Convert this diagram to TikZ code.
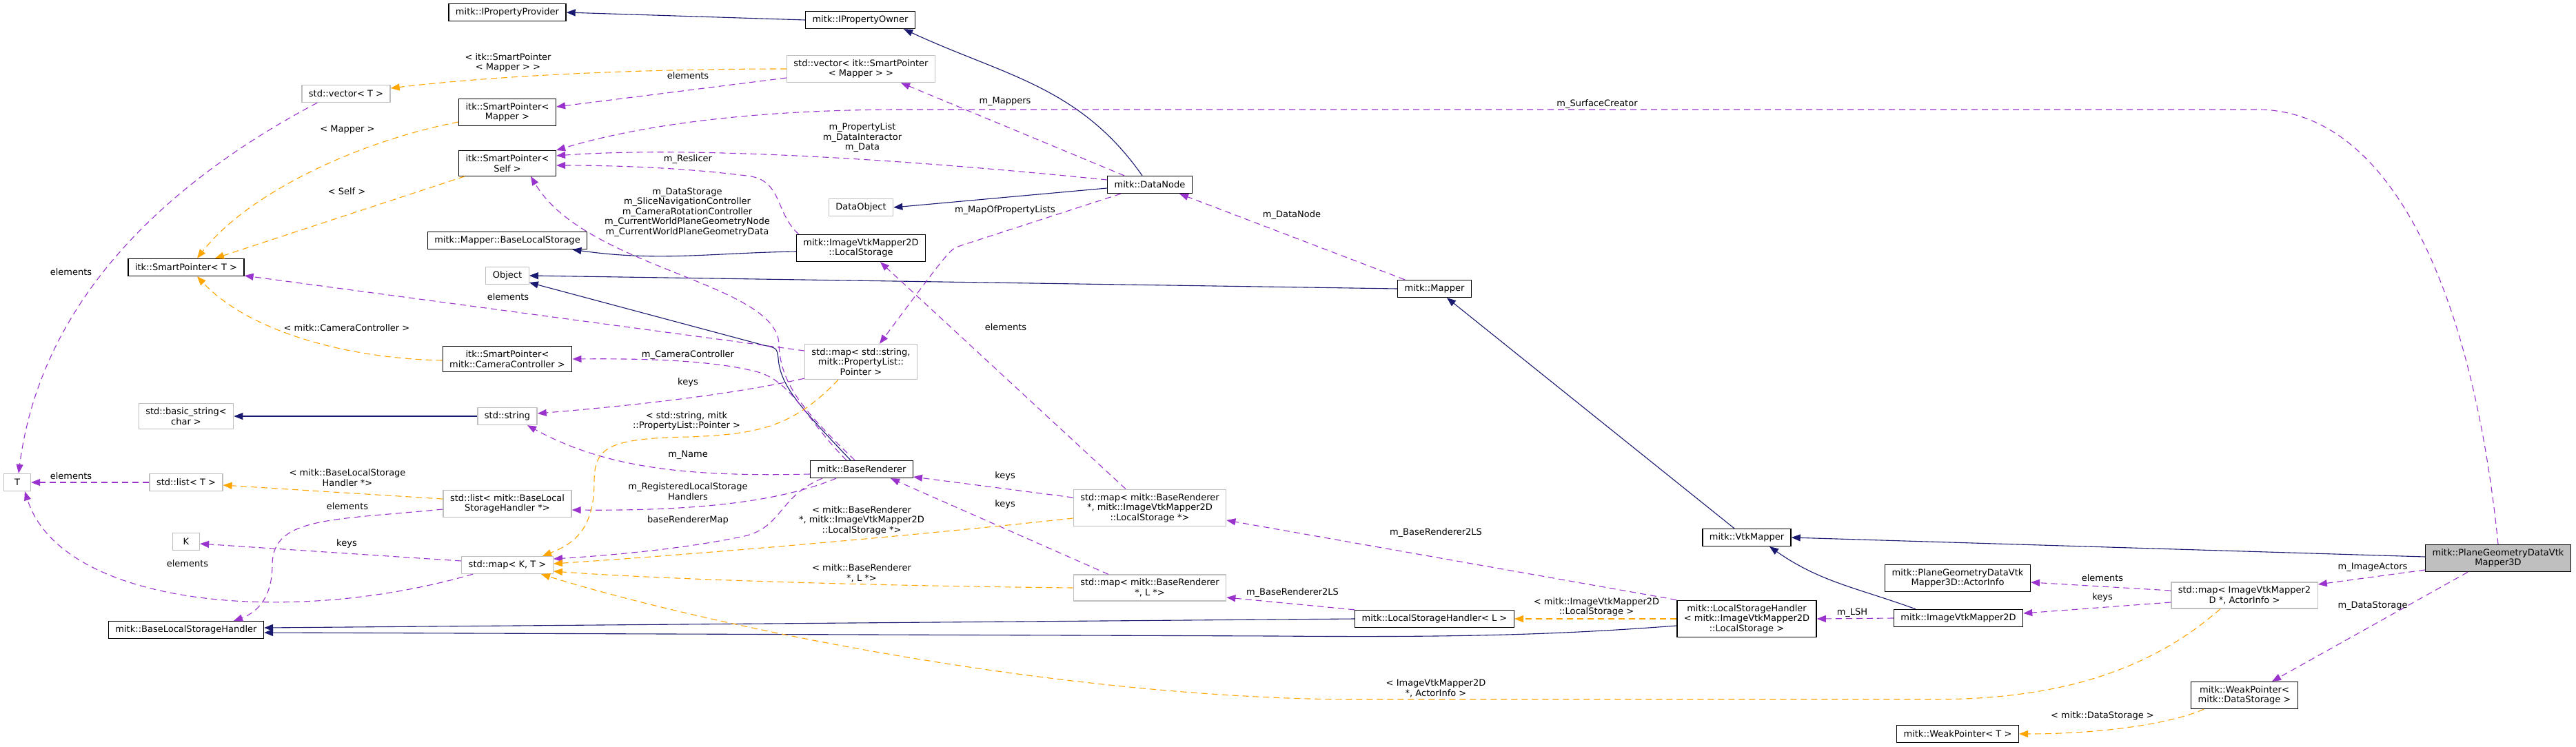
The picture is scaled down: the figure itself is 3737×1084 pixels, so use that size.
\documentclass[tikz,border=0pt]{standalone}
\usepackage{fontspec}
\setmainfont{DejaVu Sans}
\usetikzlibrary{arrows.meta}
\definecolor{navy}{HTML}{191970}
\definecolor{orchid}{HTML}{9A32CD}
\definecolor{tmplorange}{HTML}{FFA500}
\definecolor{extgray}{HTML}{BFBFBF}
\newcommand{\dgfont}{\fontsize{13}{14.5}\selectfont}
\begin{document}
\begin{tikzpicture}[x=1pt,y=-1pt,
  cls/.style={draw=black,line width=1.3pt,fill=white,inner xsep=10pt,inner ysep=6pt,
    minimum height=25pt,align=center,font=\dgfont},
  ext/.style={cls,draw=extgray,line width=1.3pt},
  focus/.style={cls,fill=extgray},
  lbl/.style={align=center,inner sep=0pt,font=\dgfont},
  inherit/.style={draw=navy,line width=1.1pt,-{Triangle[length=13pt,width=10pt]}},
  usage/.style={draw=orchid,line width=1.1pt,dash pattern=on 9pt off 6pt,-{Triangle[length=13pt,width=10pt]}},
  templ/.style={usage,draw=tmplorange}]
\useasboundingbox (0,0) rectangle (3737,1084);
%
% classes
\node[cls] (provider) at (736,18) {mitk::IPropertyProvider};
\node[cls] (owner) at (1248,29) {mitk::IPropertyOwner};
\node[ext] (vecsp) at (1249,100) {std::vector< itk::SmartPointer\\< Mapper > >};
\node[ext] (vect) at (502,136) {std::vector< T >};
\node[cls] (spmapper) at (736,163) {itk::SmartPointer<\\Mapper >};
\node[cls] (spself) at (736,237) {itk::SmartPointer<\\Self >};
\node[cls] (baselocal) at (736,349) {mitk::Mapper::BaseLocalStorage};
\node[ext] (object) at (736,400) {Object};
\node[cls] (spt) at (270,388) {itk::SmartPointer< T >};
\node[ext] (dataobject) at (1249,301) {DataObject};
\node[cls] (datanode) at (1668,268) {mitk::DataNode};
\node[cls] (ivmls) at (1249,360) {mitk::ImageVtkMapper2D\\::LocalStorage};
\node[cls] (mapper) at (2081,419) {mitk::Mapper};
\node[cls] (spcc) at (736,521) {itk::SmartPointer<\\mitk::CameraController >};
\node[ext] (mapstr) at (1249,525) {std::map< std::string,\\mitk::PropertyList::\\Pointer >};
\node[ext] (basicstr) at (270,604) {std::basic\_string<\\char >};
\node[ext] (str) at (736,604) {std::string};
\node[ext] (listt) at (270,700) {std::list< T >};
\node[ext,minimum width=39pt] (tt) at (25,700) {T};
\node[ext,minimum width=39pt] (kk) at (270,786) {K};
\node[ext] (listblsh) at (736,731) {std::list< mitk::BaseLocal\\StorageHandler *>};
\node[ext] (mapkt) at (736,820) {std::map< K, T >};
\node[cls] (blsh) at (270,914) {mitk::BaseLocalStorageHandler};
\node[cls] (renderer) at (1250,681) {mitk::BaseRenderer};
\node[ext] (mapbrls) at (1668,737) {std::map< mitk::BaseRenderer\\*, mitk::ImageVtkMapper2D\\::LocalStorage *>};
\node[ext] (mapbrl) at (1668,853) {std::map< mitk::BaseRenderer\\*, L *>};
\node[cls] (lshl) at (2081,898) {mitk::LocalStorageHandler< L >};
\node[cls] (lshivm) at (2534,898) {mitk::LocalStorageHandler\\< mitk::ImageVtkMapper2D\\::LocalStorage >};
\node[cls] (vtkmapper) at (2534,780) {mitk::VtkMapper};
\node[cls] (actorinfo) at (2840,839) {mitk::PlaneGeometryDataVtk\\Mapper3D::ActorInfo};
\node[cls] (ivm) at (2841,897) {mitk::ImageVtkMapper2D};
\node[ext] (mapactor) at (3256,864) {std::map< ImageVtkMapper2\\D *, ActorInfo >};
\node[focus] (plane) at (3624,810) {mitk::PlaneGeometryDataVtk\\Mapper3D};
\node[cls] (wpds) at (3256,1009) {mitk::WeakPointer<\\mitk::DataStorage >};
\node[cls] (wpt) at (2840,1065) {mitk::WeakPointer< T >};
%
% inheritance
\draw[inherit] (owner.west) -- (provider.east);
\draw[inherit] ([xshift=-11pt]datanode.north) to[out=125,in=-25] ([xshift=-17pt]owner.south east);
\draw[inherit] ([yshift=-5pt]datanode.west) -- (dataobject.east);
\draw[inherit] ([yshift=-5pt]ivmls.west) to[out=181,in=-8] ([xshift=-22pt]baselocal.south east);
\draw[inherit] (mapper.west) -- (object.east);
\draw[inherit] ([xshift=-16pt]renderer.north) .. controls (1160,590) and (1132,560) .. (1129,520)
  .. controls (1127,505) .. (1108,501) -- ([yshift=-10pt]object.east);
\draw[inherit] ([xshift=-18pt]vtkmapper.north) -- ([xshift=18pt]mapper.south);
\draw[inherit] ([yshift=2pt]plane.west) -- (vtkmapper.east);
\draw[inherit] ([xshift=-62pt]ivm.north) to[out=160,in=-35] ([xshift=33pt]vtkmapper.south);
\draw[inherit] (str.west) -- (basicstr.east);
\draw[inherit] (lshl.west) -- ([yshift=3pt]blsh.east);
\draw[inherit] ([yshift=-10pt]lshivm.west) .. controls (2250,922) and (2100,925) .. (1850,923)
  -- ([yshift=-4pt]blsh.east);
%
% usage
\draw[usage] ([xshift=23pt]vect.south west) .. controls (250,260) and (60,430) .. ([xshift=2pt]tt.north);
\draw[usage] ([yshift=-13pt]vecsp.west) -- ([yshift=8pt]spmapper.east);
\draw[usage] ([xshift=-37pt]datanode.north) -- ([xshift=58pt]vecsp.south);
\draw[usage] ([yshift=7pt]datanode.west) .. controls (1300,230) and (1000,212) .. ([yshift=11pt]spself.east);
\draw[usage] (plane.north) .. controls (3590,450) and (3480,165) .. (3280,159) -- (1300,159)
  .. controls (1050,160) and (900,190) .. (spself.north east);
\draw[usage] ([xshift=4pt]ivmls.north west) .. controls (1125,310) and (1135,265) .. (1090,256)
  .. controls (1000,244) and (900,240) .. ([yshift=-3pt]spself.east);
\draw[usage] ([xshift=-10pt]renderer.north) .. controls (1170,600) and (1132,560) .. (1130,500)
  .. controls (1128,410) and (850,390) .. ([xshift=34pt]spself.south);
\draw[usage] ([yshift=16pt]mapstr.west) -- ([yshift=-12pt]spt.east);
\draw[usage] ([xshift=-42pt]datanode.south) -- (1392,357) .. controls (1378,362) .. ([xshift=27pt]mapstr.north);
\draw[usage] ([xshift=-22pt]renderer.north) .. controls (1170,610) and (1150,555) .. (1100,540)
  .. controls (1040,524) and (950,520) .. (spcc.east);
\draw[usage] ([yshift=2pt]mapstr.south west) .. controls (1050,575) and (900,590) .. ([yshift=4pt]str.east);
\draw[usage] ([yshift=-7pt]renderer.west) .. controls (1000,692) and (880,680) .. ([xshift=29pt]str.south);
\draw[usage] ([xshift=-37pt]renderer.south) .. controls (1150,720) and (1050,742) .. ([yshift=-9pt]listblsh.east);
\draw[usage] ([xshift=-57pt]renderer.south) .. controls (1130,720) and (1135,765) .. (1080,778)
  .. controls (1000,795) and (900,805) .. ([yshift=9pt]mapkt.east);
\draw[usage] ([yshift=15pt]mapbrls.west) -- ([yshift=-11pt]renderer.east);
\draw[usage] ([xshift=-60pt]mapbrl.north) -- ([xshift=42pt]renderer.south);
\draw[usage] ([xshift=-35pt]mapbrls.north) -- ([xshift=28pt]ivmls.south);
\draw[usage] (lshivm.north west) -- ([yshift=-18pt]mapbrls.east);
\draw[usage] (lshl.north west) -- ([yshift=-14pt]mapbrl.east);
\draw[usage] ([yshift=6pt]mapkt.west) -- ([yshift=-3pt]kk.east);
\draw[usage] ([xshift=17pt]mapkt.south west) .. controls (420,910) and (90,880) .. ([xshift=11pt]tt.south);
\draw[usage] ([yshift=-8pt]listblsh.west) .. controls (480,755) and (395,750) .. (395,820)
  .. controls (395,870) and (370,890) .. ([xshift=69pt]blsh.north);
\draw[usage] (listt.west) -- (tt.east);
\draw[usage] (ivm.west) -- (lshivm.east);
\draw[usage] ([yshift=-17pt]plane.west) -- ([yshift=16pt]mapactor.east);
\draw[usage] ([yshift=7pt]mapactor.west) -- ([yshift=-6pt]actorinfo.east);
\draw[usage] ([yshift=-10pt]mapactor.west) -- ([yshift=7pt]ivm.east);
\draw[usage] ([xshift=-44pt]plane.south) -- ([xshift=40pt]wpds.north);
\draw[usage] ([xshift=-43pt]mapper.north) -- ([xshift=43pt]datanode.south);
%
% template instances
\draw[templ] (vecsp.west) .. controls (900,100) and (700,112) .. ([yshift=8pt]vect.east);
\draw[templ] ([yshift=-14pt]spmapper.west) .. controls (520,205) and (360,280) .. ([xshift=16pt]spt.north);
\draw[templ] ([xshift=9pt]spself.south west) -- ([xshift=42pt]spt.north);
\draw[templ] ([yshift=-2pt]spcc.west) .. controls (500,520) and (360,480) .. ([xshift=16pt]spt.south);
\draw[templ] ([xshift=-33pt]mapstr.south) .. controls (1150,620) and (1100,630) .. (1000,634)
  .. controls (880,636) and (862,650) .. (862,700) .. controls (862,770) and (830,790) .. ([xshift=51pt]mapkt.north);
\draw[templ] ([yshift=-15pt]mapbrls.west) .. controls (1300,780) and (1000,805) .. ([yshift=2pt]mapkt.east);
\draw[templ] (mapbrl.west) .. controls (1250,850) and (950,840) .. ([yshift=-9pt]mapkt.east);
\draw[templ] ([xshift=-35pt]mapactor.south) .. controls (3100,990) and (2950,1015) .. (2800,1015) -- (1950,1015)
  .. controls (1500,1010) and (1000,900) .. ([xshift=49pt]mapkt.south);
\draw[templ] ([yshift=7pt]listblsh.west) -- ([yshift=-4pt]listt.east);
\draw[templ] (lshivm.west) -- (lshl.east);
\draw[templ] ([xshift=-59pt]wpds.south) .. controls (3150,1050) and (3050,1065) .. (wpt.east);
%
% labels
\node[lbl] (lsmartmapper) at (737,91) {< itk::SmartPointer\\< Mapper > >};
\node[lbl] (lelemvec) at (998,110) {elements};
\node[lbl] (lmapper) at (504,188) {< Mapper >};
\node[lbl] (lself) at (503,278) {< Self >};
\node[lbl] (lelemt) at (103,395) {elements};
\node[lbl] (lmappers) at (1458,147) {m\_Mappers};
\node[lbl] (lsurface) at (2317,151) {m\_SurfaceCreator};
\node[lbl] (lproplist) at (1251,200) {m\_PropertyList\\m\_DataInteractor\\m\_Data};
\node[lbl] (lreslicer) at (998,231) {m\_Reslicer};
\node[lbl] (ldatastorage) at (997,308) {m\_DataStorage\\m\_SliceNavigationController\\m\_CameraRotationController\\m\_CurrentWorldPlaneGeometryNode\\m\_CurrentWorldPlaneGeometryData};
\node[lbl] (lmapprop) at (1458,305) {m\_MapOfPropertyLists};
\node[lbl] (ldatanode) at (1874,312) {m\_DataNode};
\node[lbl] (lelemsp) at (737,431) {elements};
\node[lbl] (lcamctrl) at (503,476) {< mitk::CameraController >};
\node[lbl] (lelemls) at (1459,475) {elements};
\node[lbl] (lcamera) at (998,515) {m\_CameraController};
\node[lbl] (lkeysstr) at (998,555) {keys};
\node[lbl] (lstrpl) at (996,611) {< std::string, mitk\\::PropertyList::Pointer >};
\node[lbl] (lname) at (998,660) {m\_Name};
\node[lbl] (lelemlist) at (103,691) {elements};
\node[lbl] (lblshtmpl) at (504,693) {< mitk::BaseLocalStorage\\Handler *>};
\node[lbl] (lkeysls) at (1458,691) {keys};
\node[lbl] (lregistered) at (998,713) {m\_RegisteredLocalStorage\\Handlers};
\node[lbl] (lkeysl) at (1458,732) {keys};
\node[lbl] (lelemblsh) at (504,735) {elements};
\node[lbl] (lrendmap) at (998,755) {baseRendererMap};
\node[lbl] (lbrls) at (1250,755) {< mitk::BaseRenderer\\*, mitk::ImageVtkMapper2D\\::LocalStorage *>};
\node[lbl] (lbr2ls) at (2083,773) {m\_BaseRenderer2LS};
\node[lbl] (lkeysk) at (503,789) {keys};
\node[lbl] (lelemkt) at (272,818) {elements};
\node[lbl] (limageactors) at (3442,823) {m\_ImageActors};
\node[lbl] (lbrl) at (1250,832) {< mitk::BaseRenderer\\*, L *>};
\node[lbl] (lelemactor) at (3050,839) {elements};
\node[lbl] (lbr2lsl) at (1875,860) {m\_BaseRenderer2LS};
\node[lbl] (lkeysivm) at (3050,867) {keys};
\node[lbl] (livmls) at (2316,881) {< mitk::ImageVtkMapper2D\\::LocalStorage >};
\node[lbl] (lstorage) at (3442,879) {m\_DataStorage};
\node[lbl] (llsh) at (2687,889) {m\_LSH};
\node[lbl] (lactorinfo) at (2083,999) {< ImageVtkMapper2D\\*, ActorInfo >};
\node[lbl] (lds) at (3050,1039) {< mitk::DataStorage >};
\end{tikzpicture}
\end{document}
